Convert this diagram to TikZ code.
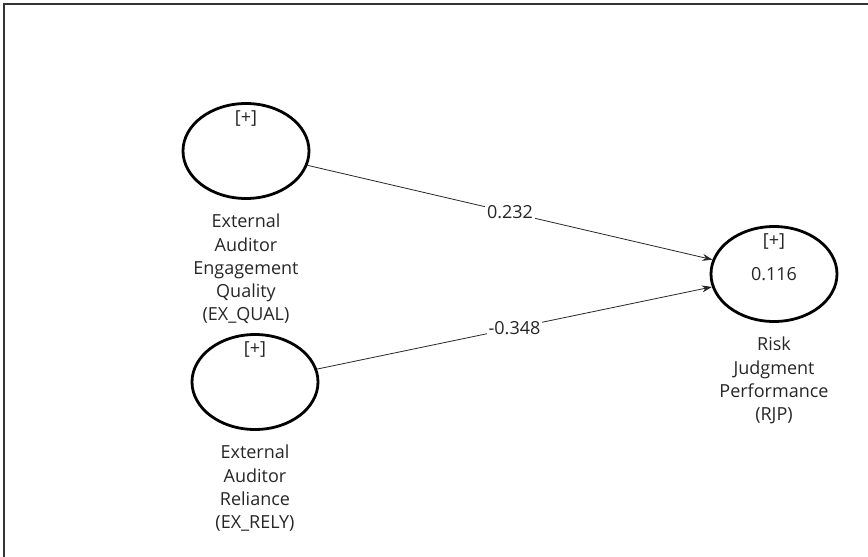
\documentclass[tikz,border=0pt]{standalone}
\usepackage{fontspec}
\setmainfont{Open Sans}
\usetikzlibrary{positioning,shapes.geometric,arrows.meta}
\definecolor{txtgray}{HTML}{262626}
\begin{document}
\begin{tikzpicture}[x=1pt, y=-1pt,
    construct/.style={ellipse, draw=black, line width=2.8pt, minimum width=126pt, minimum height=95pt,
        text=txtgray, font=\fontsize{18}{23.3}\selectfont},
    caption/.style={align=center, inner sep=0pt, text=txtgray, font=\fontsize{18}{23.3}\selectfont},
    plus/.style={inner sep=0pt, text=txtgray, font=\fontsize{18}{23.3}\selectfont},
    path/.style={draw=black!85, line width=0.8pt, -{Stealth[length=10pt, width=7pt]}},
    coef/.style={fill=white, inner sep=2pt, text=txtgray, font=\fontsize{18}{23.3}\selectfont}]
    \useasboundingbox (0,0) rectangle (868,557);
    \draw[black!80, line width=1.4pt] (4,557) -- (4,4) -- (868,4);
    % constructs
    \node[construct] (qual) at (246,151) {};
    \node[construct] (rely) at (255,382) {};
    \node[construct] (rjp) at (774,274) {0.116};
    \foreach \n in {qual,rely,rjp}
    {
        \node[plus] at ([yshift=-16pt]\n.north) {[+]};
    }
    % captions
    \node[caption, below=14pt of qual] (qualtxt) {External\\Auditor\\Engagement\\Quality\\(EX\_QUAL)};
    \node[caption, below=14pt of rely] (relytxt) {External\\Auditor\\Reliance\\(EX\_RELY)};
    \node[caption, below=14pt of rjp] (rjptxt) {Risk\\Judgment\\Performance\\(RJP)};
    % paths
    \draw[path] (qual) -- node[coef] {0.232} (rjp);
    \draw[path] (rely) -- node[coef] {-0.348} (rjp);
\end{tikzpicture}
\end{document}
